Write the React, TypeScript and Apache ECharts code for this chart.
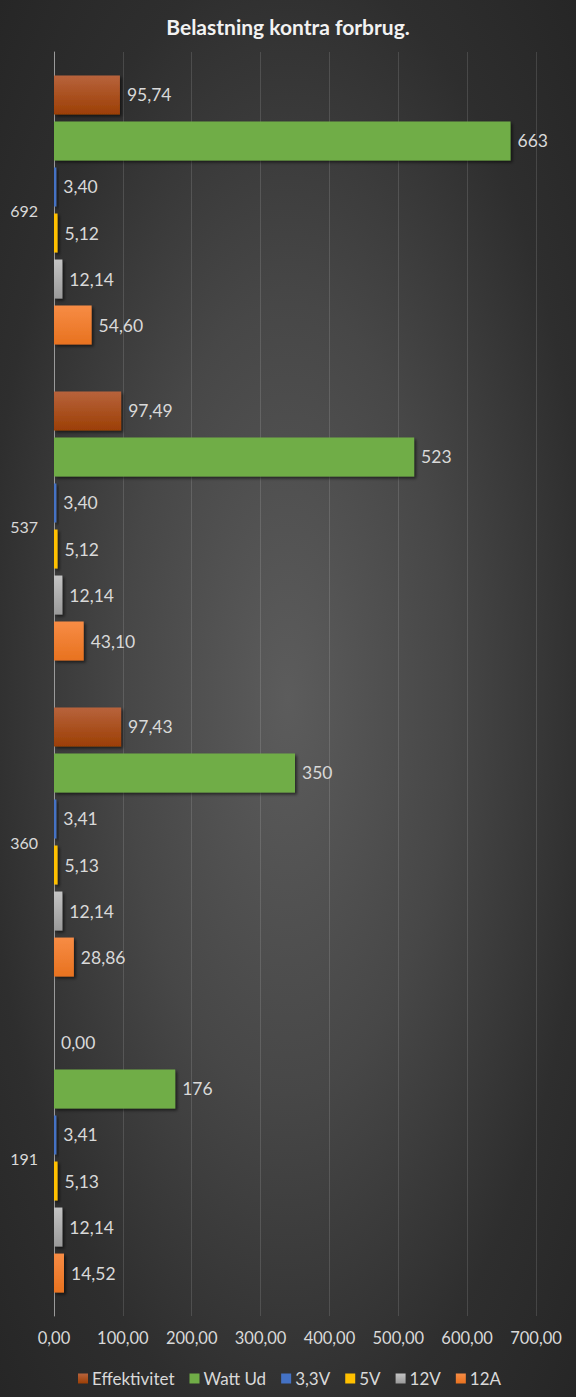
import React, { useEffect, useRef } from "react";
import * as echarts from "echarts";

const categories = ["191", "360", "537", "692"];
const seriesNames = ["Effektivitet", "Watt Ud", "3,3V", "5V", "12V", "12A"];
const effektivitet = [0.0, 97.43, 97.49, 95.74];
const wattUd = [176, 350, 523, 663];
const v33 = [3.41, 3.41, 3.4, 3.4];
const v5 = [5.13, 5.13, 5.12, 5.12];
const v12 = [12.14, 12.14, 12.14, 12.14];
const a12 = [14.52, 28.86, 43.1, 54.6];
const xTicks = [0, 100, 200, 300, 400, 500, 600, 700];

const FONT = "Lato, 'Open Sans', sans-serif";
const TXT = "#d9d9d9";

function grad(top: string, bottom: string) {
  return new echarts.graphic.LinearGradient(0, 0, 0, 1, [
    { offset: 0, color: top },
    { offset: 1, color: bottom },
  ]);
}

export default function App() {
  const ref = useRef<HTMLDivElement>(null);
  useEffect(() => {
    document.body.style.margin = "0";
    if (!ref.current) return;
    const chart = echarts.init(ref.current, undefined, { renderer: "svg" });
    const fmt2 = (p: any) => Number(p.value).toFixed(2).replace(".", ",");
    const fmt0 = (p: any) => String(Math.round(Number(p.value)));
    const colors = ["#a5461a", "#70ad47", "#4472c4", "#ffc000", "#a5a5a5", "#ed7d31"];
    const fills = [
      grad("#b8633c", "#9c3f05"),
      "#70ad47",
      "#4472c4",
      "#ffc000",
      grad("#c4c4c4", "#9a9a9a"),
      grad("#f78c45", "#e8721f"),
    ];
    const datas = [effektivitet, wattUd, v33, v5, v12, a12];
    const series = seriesNames.map((name, i) => ({
      name,
      type: "bar",
      data: datas[i],
      barWidth: 39,
      barGap: "18%",
      color: colors[i],
      itemStyle: {
        color: fills[i],
        shadowColor: "rgba(0,0,0,0.55)",
        shadowBlur: 3,
        shadowOffsetX: 2,
        shadowOffsetY: 2,
      },
      label: {
        show: true,
        position: "right",
        distance: 7,
        color: TXT,
        fontFamily: FONT,
        fontSize: 17.5,
        formatter: i === 1 ? fmt0 : fmt2,
      },
    }));
    chart.setOption({
      animation: false,
      backgroundColor: "transparent",
      title: {
        text: "Belastning kontra forbrug.",
        left: "center",
        top: 11,
        textStyle: {
          color: "#f2f2f2",
          fontFamily: FONT,
          fontSize: 21,
          fontWeight: "bold",
        },
      },
      legend: {
        data: seriesNames,
        left: 73,
        top: 1365,
        icon: "rect",
        itemWidth: 10,
        itemHeight: 10,
        itemGap: 15,
        textStyle: { color: TXT, fontFamily: FONT, fontSize: 17, padding: [0, 0, 0, -1] },
      },
      grid: { left: 54, right: 40, top: 52, bottom: 81, containLabel: false },
      xAxis: {
        type: "value",
        min: xTicks[0],
        max: xTicks[xTicks.length - 1],
        interval: 100,
        axisLine: { show: false },
        axisTick: { show: false },
        axisLabel: {
          color: TXT,
          fontFamily: FONT,
          fontSize: 16.5,
          margin: 13,
          formatter: (v: number) => v.toFixed(2).replace(".", ","),
        },
        splitLine: { lineStyle: { color: "rgba(255,255,255,0.13)", width: 1 } },
      },
      yAxis: {
        type: "category",
        data: categories,
        axisLine: { show: true, lineStyle: { color: "#9a9a9a", width: 1 } },
        axisTick: { show: false },
        axisLabel: { color: TXT, fontFamily: FONT, fontSize: 16, margin: 16 },
      },
      series,
    });
    return () => chart.dispose();
  }, []);
  return (
    <div
      ref={ref}
      style={{
        width: 576,
        height: 1397,
        background:
          "radial-gradient(ellipse at 50% 50%, #5c5c5c 0%, #474747 40%, #2e2e2e 75%, #262626 100%)",
      }}
    />
  );
}
